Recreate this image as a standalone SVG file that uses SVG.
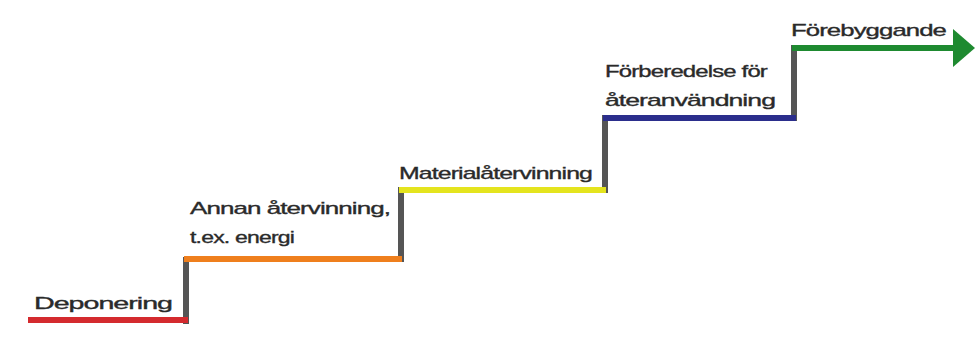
<svg xmlns="http://www.w3.org/2000/svg" width="979" height="340" viewBox="0 0 979 340">
<style>
.t{font-family:"Liberation Sans","Noto Sans",sans-serif;font-size:17px;fill:#2a2a2a;stroke:#2a2a2a;stroke-width:0.35;letter-spacing:-0.6px}
.s{fill:none;stroke-width:6;stroke-linecap:butt}
.r{stroke:#555}
</style>
<defs>
<marker id="ah" markerUnits="userSpaceOnUse" markerWidth="26" markerHeight="38" refX="2" refY="19" orient="auto"><path d="M0,0 L22,19 L0,38 Z" fill="#1e8a30"/></marker>
</defs>
<rect width="979" height="340" fill="#fff"/>
<g id="connectors">
<line class="s r" x1="186" y1="257" x2="186" y2="324"/>
<line class="s r" x1="401" y1="187" x2="401" y2="262"/>
<line class="s r" x1="605" y1="115" x2="605" y2="193"/>
<line class="s r" x1="794" y1="45" x2="794" y2="121"/>
</g>
<g id="step1"><line class="s" stroke="#d42a2e" x1="28" y1="320" x2="188" y2="320"/><text class="t" x="34" y="309" textLength="138" lengthAdjust="spacingAndGlyphs">Deponering</text></g>
<g id="step2"><line class="s" stroke="#ef7f1d" x1="184" y1="259" x2="402" y2="259"/><text class="t" x="190" y="214" textLength="200" lengthAdjust="spacingAndGlyphs">Annan återvinning,</text><text class="t" x="190" y="243" textLength="104" lengthAdjust="spacingAndGlyphs">t.ex. energi</text></g>
<g id="step3"><line class="s" stroke="#e4e41e" x1="399" y1="190" x2="606" y2="190"/><text class="t" x="399" y="179" textLength="193" lengthAdjust="spacingAndGlyphs">Materialåtervinning</text></g>
<g id="step4"><line class="s" stroke="#2b2e8c" x1="603" y1="118" x2="796" y2="118"/><text class="t" x="605" y="77" textLength="162" lengthAdjust="spacingAndGlyphs">Förberedelse för</text><text class="t" x="605" y="106" textLength="170" lengthAdjust="spacingAndGlyphs">återanvändning</text></g>
<g id="step5"><line class="s" stroke="#1e8a30" x1="792" y1="48" x2="955" y2="48" marker-end="url(#ah)"/><text class="t" x="791" y="36" textLength="155" lengthAdjust="spacingAndGlyphs">Förebyggande</text></g>
</svg>
